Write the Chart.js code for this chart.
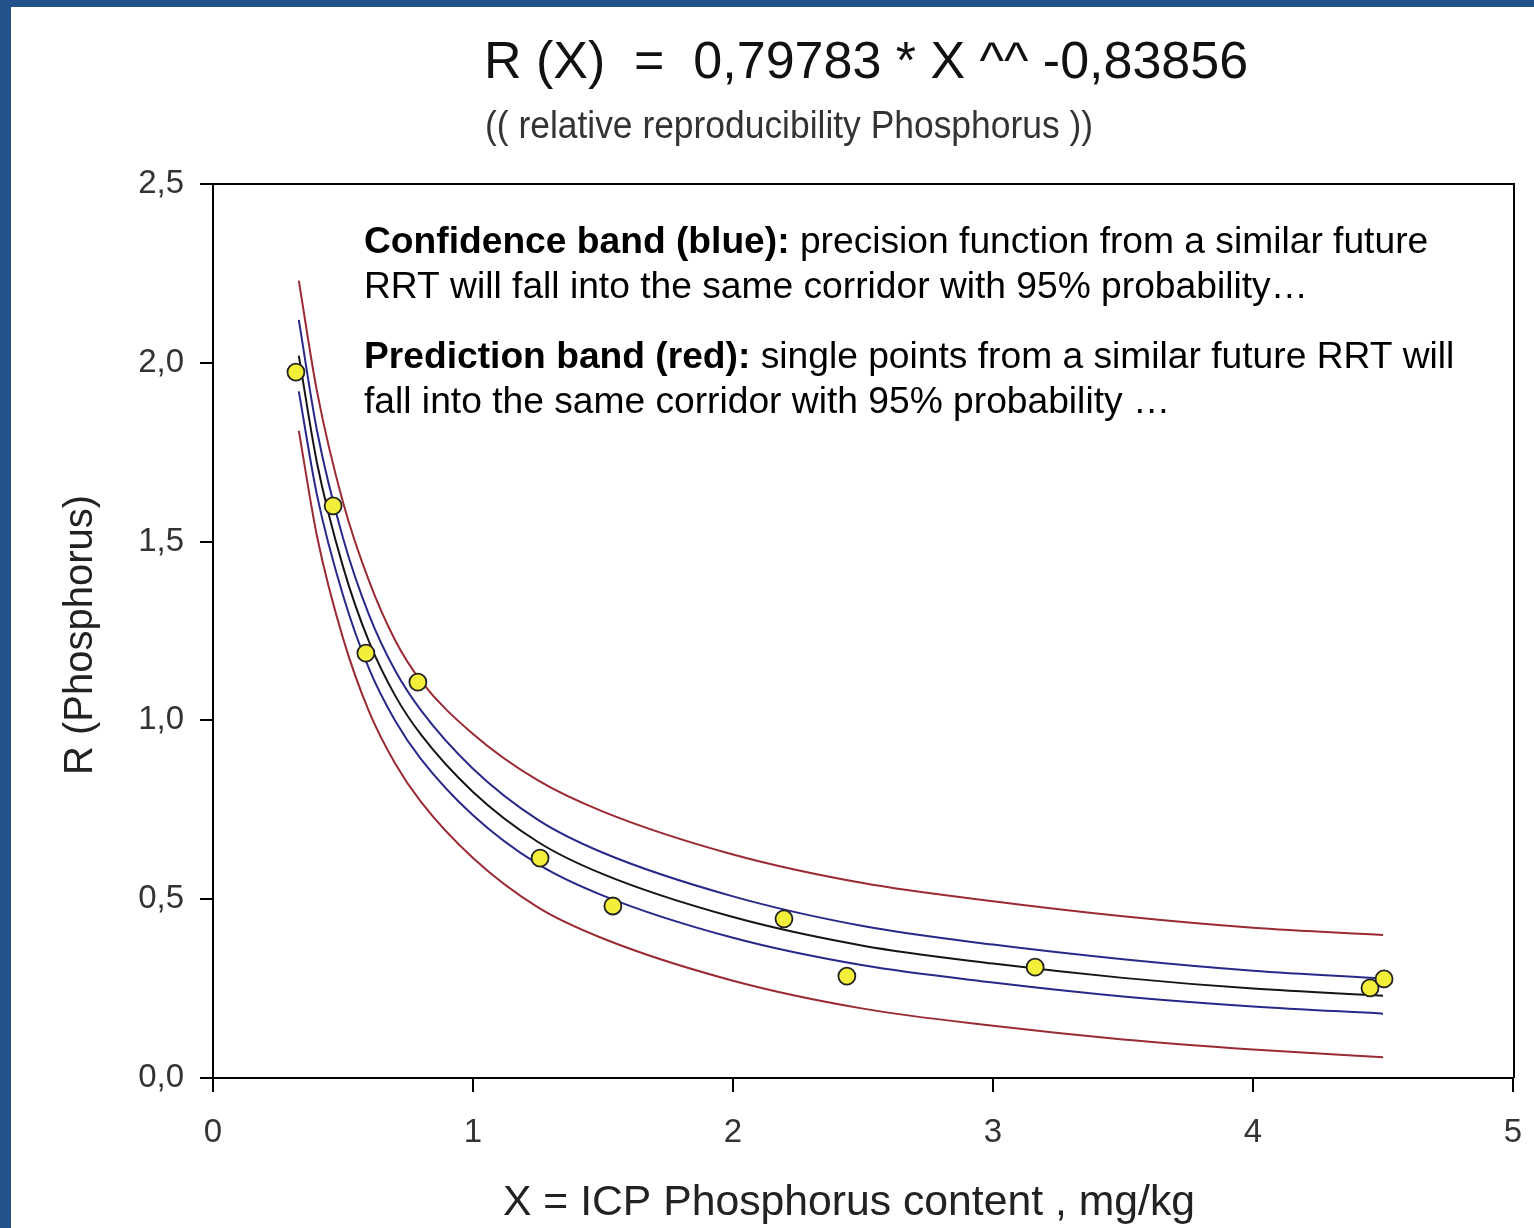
<!DOCTYPE html>
<html>
<head>
<meta charset="utf-8">
<script src="https://cdn.jsdelivr.net/npm/chart.js@4.4.0/dist/chart.umd.min.js"></script>
<style>
  html, body { margin: 0; padding: 0; background: #ffffff; }
  #wrap { position: relative; width: 1534px; height: 1228px; overflow: hidden; }
  #c { position: absolute; left: 0; top: 0; }
  .bl { position: absolute; left: 0; top: 0; width: 11px; height: 1228px; background: #23518A; }
  .bt { position: absolute; left: 0; top: 0; width: 1534px; height: 7px; background: #23518A; }
</style>
</head>
<body>
<div id="wrap">
  <canvas id="c" width="1534" height="1228"></canvas>
  <div class="bl"></div>
  <div class="bt"></div>
</div>
<script>
// ---- data ----
const titleText = "R (X)  =  0,79783 * X ^^ -0,83856";
const subtitleText = "(( relative reproducibility Phosphorus ))";
const xAxisTitle = "X = ICP Phosphorus content , mg/kg";
const yAxisTitle = "R (Phosphorus)";

const pointX = [0.319, 0.462, 0.588, 0.788, 1.258, 1.538, 2.196, 2.438, 3.162, 4.450, 4.504];
const pointY = [1.974, 1.600, 1.188, 1.107, 0.615, 0.481, 0.445, 0.285, 0.310, 0.252, 0.277];

const curveX   = [0.33, 0.40, 0.50, 0.60, 0.70, 0.80, 1.00, 1.25, 1.50, 2.00, 2.50, 3.00, 3.50, 4.00, 4.50];
const fitY     = [2.02, 1.72, 1.43, 1.22, 1.07, 0.96, 0.80, 0.66, 0.57, 0.45, 0.37, 0.32, 0.28, 0.25, 0.23];
const confUpY  = [2.12, 1.81, 1.51, 1.295, 1.14, 1.028, 0.865, 0.722, 0.63, 0.508, 0.425, 0.373, 0.332, 0.300, 0.278];
const confLoY  = [1.92, 1.63, 1.35, 1.145, 1.00, 0.892, 0.735, 0.598, 0.51, 0.392, 0.315, 0.267, 0.228, 0.200, 0.180];
const predUpY  = [2.23, 1.92, 1.61, 1.39, 1.225, 1.11, 0.962, 0.832, 0.745, 0.625, 0.545, 0.494, 0.452, 0.420, 0.400];
const predLoY  = [1.81, 1.515, 1.23, 1.025, 0.88, 0.772, 0.615, 0.477, 0.39, 0.272, 0.194, 0.146, 0.108, 0.080, 0.058];

const noteLines = [
  ["Confidence band (blue):", " precision function from a similar future"],
  ["", "RRT will fall into the same corridor with 95% probability\u2026"],
  ["Prediction band (red):", " single points from a similar future RRT will"],
  ["", "fall into the same corridor with 95% probability \u2026"]
];

// ---- build datasets ----
const toXY = (xs, ys) => xs.map((x, i) => ({ x: x, y: ys[i] }));
const RED = '#9A2A33', BLUE = '#28288A', BLACK = '#151515';
function curve(label, ys, color) {
  return {
    type: 'line', label: label, data: toXY(curveX, ys),
    borderColor: color, borderWidth: 2, pointRadius: 0, fill: false,
    cubicInterpolationMode: 'monotone', order: 2
  };
}

const fonts = "'Liberation Sans', Arial, sans-serif";

const textPlugin = {
  id: 'texts',
  afterDraw(chart) {
    const ctx = chart.ctx;
    const a = chart.chartArea;
    ctx.save();
    // plot frame (top and right)
    ctx.strokeStyle = '#000';
    ctx.lineWidth = 2;
    ctx.beginPath();
    ctx.moveTo(a.left - 13, a.top);
    ctx.lineTo(a.right + 1, a.top);
    ctx.lineTo(a.right + 1, a.bottom);
    ctx.stroke();
    // title
    ctx.fillStyle = '#111';
    ctx.textAlign = 'center';
    ctx.textBaseline = 'alphabetic';
    ctx.font = "52px " + fonts;
    ctx.fillText(titleText, 866, 78);
    ctx.fillStyle = '#333';
    ctx.font = "38px " + fonts;
    ctx.fillText(subtitleText, 789, 138, 608);
    // axis titles
    ctx.fillStyle = '#222';
    ctx.font = "43px " + fonts;
    ctx.fillText(xAxisTitle, 849, 1215, 692);
    ctx.save();
    ctx.translate(92, 635);
    ctx.rotate(-Math.PI / 2);
    ctx.font = "40px " + fonts;
    ctx.fillText(yAxisTitle, 0, 0, 282);
    ctx.restore();
    // notes
    ctx.textAlign = 'left';
    ctx.fillStyle = '#000';
    const base = [253, 298, 368, 413];
    noteLines.forEach((ln, i) => {
      let x = 364;
      if (ln[0]) {
        ctx.font = "bold 37.2px " + fonts;
        ctx.fillText(ln[0], x, base[i]);
        x += ctx.measureText(ln[0]).width;
      }
      ctx.font = "37.2px " + fonts;
      ctx.fillText(ln[1], x, base[i]);
    });
    ctx.restore();
  }
};

new Chart(document.getElementById('c'), {
  data: {
    datasets: [
      {
        type: 'scatter', label: 'data', data: toXY(pointX, pointY),
        backgroundColor: '#F2EE3A', borderColor: '#222', borderWidth: 1.8,
        pointRadius: 8.5, pointHoverRadius: 8.5, order: 1
      },
      curve('prediction upper', predUpY, RED),
      curve('prediction lower', predLoY, RED),
      curve('confidence upper', confUpY, BLUE),
      curve('confidence lower', confLoY, BLUE),
      curve('fit', fitY, BLACK)
    ]
  },
  options: {
    responsive: false,
    animation: false,
    layout: { padding: { left: 0, top: 184, right: 21, bottom: 0 } },
    plugins: { legend: { display: false }, title: { display: false }, tooltip: { enabled: false } },
    scales: {
      x: {
        type: 'linear', min: 0, max: 5,
        ticks: { stepSize: 1, color: '#333', font: { family: fonts, size: 33 }, padding: 21,
                 callback: v => String(v) },
        grid: { display: true, drawOnChartArea: false, drawTicks: true, tickLength: 14, color: '#000', lineWidth: 2 },
        border: { display: true, color: '#000', width: 2 },
        afterFit: s => { s.height = 150; s.paddingLeft = 0; s.paddingRight = 0; }
      },
      y: {
        type: 'linear', min: 0, max: 2.5,
        ticks: { stepSize: 0.5, color: '#333', font: { family: fonts, size: 33 }, padding: 16,
                 callback: v => v.toFixed(1).replace('.', ',') },
        grid: { display: true, drawOnChartArea: false, drawTicks: true, tickLength: 13, color: '#000', lineWidth: 2 },
        border: { display: true, color: '#000', width: 2 },
        afterFit: s => { s.width = 213; s.paddingTop = 0; s.paddingBottom = 0; }
      }
    }
  },
  plugins: [textPlugin]
});
</script>
</body>
</html>
